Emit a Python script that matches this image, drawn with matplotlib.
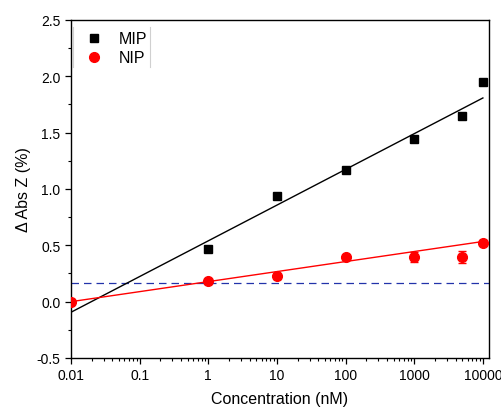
import numpy as np
import matplotlib
matplotlib.use("Agg")
import matplotlib.pyplot as plt
from matplotlib.ticker import LogLocator, MultipleLocator, FixedLocator, FixedFormatter

plt.rcParams['font.family'] = ['Liberation Sans', 'DejaVu Sans']

# Data
mip_conc = [1, 10, 100, 1000, 5000, 10000]
mip_vals = [0.466, 0.94, 1.17, 1.44, 1.65, 1.95]
mip_err = [0.02, 0.02, 0.02, 0.02, 0.02, 0.02]

nip_conc = [0.01, 1, 10, 100, 1000, 5000, 10000]
nip_vals = [0.0, 0.18, 0.224, 0.395, 0.40, 0.40, 0.525]
nip_err = [0.02, 0.02, 0.02, 0.02, 0.045, 0.053, 0.02]

# Linear fits y = a + b*log10(x)
mip_fit = (0.54, 0.317)
nip_fit = (0.178, 0.089)
fit_range = [0.01, 10000]
threshold = 0.17

xtick_vals = [0.01, 0.1, 1, 10, 100, 1000, 10000]
xtick_labels = ['0.01', '0.1', '1', '10', '100', '1000', '10000']

fig = plt.figure(figsize=(5.01, 4.10), dpi=100)
ax = fig.add_axes([0.1417, 0.1244, 0.834, 0.8244])

xf = np.logspace(np.log10(fit_range[0]), np.log10(fit_range[1]), 100)
ax.plot(xf, mip_fit[0] + mip_fit[1]*np.log10(xf), color='black', lw=1.0, zorder=2)
ax.plot(xf, nip_fit[0] + nip_fit[1]*np.log10(xf), color='red', lw=1.0, zorder=2)
ax.axhline(threshold, color='#2233aa', lw=0.9, ls=(0, (6, 4)), zorder=1)

ax.errorbar(mip_conc, mip_vals, yerr=mip_err, fmt='s', color='black', ms=6,
            capsize=3, elinewidth=0.8, label='MIP', zorder=3)
ax.errorbar(nip_conc, nip_vals, yerr=nip_err, fmt='o', color='red', ms=7,
            capsize=3, elinewidth=0.8, label='NIP', zorder=3)

ax.set_xscale('log')
ax.set_xlim(0.01, 12200)
ax.set_ylim(-0.5, 2.5)
ax.xaxis.set_major_locator(FixedLocator(xtick_vals))
ax.xaxis.set_major_formatter(FixedFormatter(xtick_labels))
ax.xaxis.set_minor_locator(LogLocator(base=10, subs=np.arange(2, 10), numticks=20))
ax.yaxis.set_major_locator(MultipleLocator(0.5))
ax.yaxis.set_minor_locator(MultipleLocator(0.25))
ax.yaxis.set_major_formatter(matplotlib.ticker.FormatStrFormatter('%.1f'))

ax.tick_params(which='major', direction='out', length=4, width=0.9, labelsize=10, colors='black')
ax.tick_params(which='minor', direction='out', length=2.5, width=0.8)
for s in ax.spines.values():
    s.set_linewidth(1.0)

ax.set_xlabel('Concentration (nM)', fontsize=11.5, labelpad=6)
ax.set_ylabel('Δ Abs Z (%)', fontsize=11.5, labelpad=4)

handles, labels = ax.get_legend_handles_labels()
handles = [h[0] for h in handles]
leg = ax.legend(handles, labels, loc='upper left', frameon=False, fontsize=11.5,
                handlelength=1.0, handletextpad=1.0, borderaxespad=0.3,
                bbox_to_anchor=(0.01, 1.0), labelspacing=0.25)

# faint legend frame side lines
for xa in (0.006, 0.19):
    ax.plot([xa, xa], [0.861, 0.979], transform=ax.transAxes, color='#d0d0d0', lw=0.8)

fig.savefig('out.png', dpi=100)
